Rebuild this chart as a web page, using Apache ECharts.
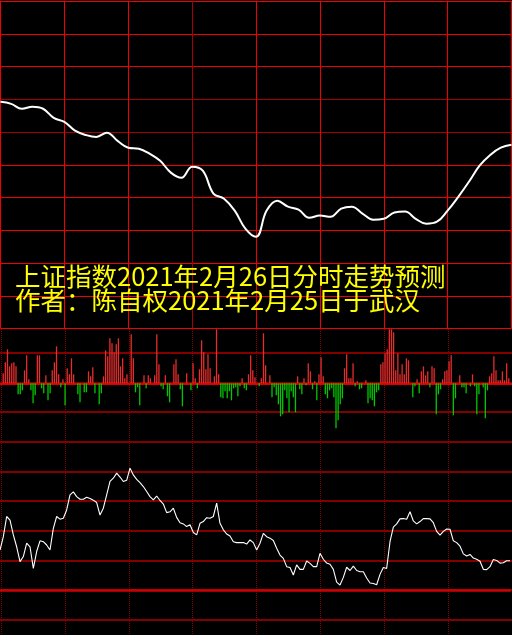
<!DOCTYPE html>
<html>
<head>
<meta charset="utf-8">
<script src="https://cdn.jsdelivr.net/npm/echarts@6.0.0/dist/echarts.min.js"></script>
<style>
  html, body { margin: 0; padding: 0; background: #000; }
  #main { width: 512px; height: 635px; }
</style>
</head>
<body>
<div id="main"></div>
<script>
  // 预测曲线 (每5分钟一个点, 单位 = 网格格数)
  var topVals = [6.92, 6.86, 6.71, 6.77, 6.71, 6.43, 6.31, 6.04, 5.91, 5.85,
    5.98, 5.73, 5.52, 5.49, 5.34, 5.12, 4.76, 4.60, 4.94, 4.82,
    4.12, 3.96, 3.60, 3.05, 2.80, 3.60, 3.90, 3.72, 3.63, 3.38,
    3.45, 3.41, 3.66, 3.72, 3.51, 3.32, 3.35, 3.54, 3.57, 3.35,
    3.20, 3.26, 3.60, 4.02, 4.48, 4.97, 5.30, 5.52, 5.61];

  // 分时红绿柱 (240分钟)
  var flowVals = [0, 10, 21, 34, 17, 20, 21, 17, -11, -11, -7, 13, 28, 4, -7, -20, -12, 28, 28, -5,
    -10, 8, -17, -10, 13, 21, 37, 9, -4, 4, -22, 15, 9, 25, 9, 0, -11, -19, 0, -9,
    -9, 12, 7, 16, -10, 0, -21, -10, 7, 33, 27, 45, 40, 31, 39, 45, 17, 25, 5, 9,
    0, 49, 25, -9, -4, -22, 0, 8, -5, 8, 5, 0, 8, 49, 19, -3, -6, 8, -13, -19,
    0, 19, 24, 9, -6, -23, 0, 10, 0, -7, 20, 5, -5, 14, 43, 31, 14, 29, 15, 0,
    7, 54, 9, -14, -15, -8, -15, -8, -17, -5, -4, -13, -3, 5, -5, -7, 9, 28, 13, 6,
    0, -3, 5, 50, 18, 0, 8, -14, -4, -12, -21, -33, -31, -7, -15, -29, -8, -14, -29, 7,
    -6, -11, 5, -2, 20, 12, -6, 2, -17, 9, 26, 7, -11, -15, -7, -5, -14, -45, -37, -21,
    -15, 15, 29, 5, 5, 20, -3, 2, -6, -5, 0, 3, -20, -15, -17, -23, -9, -7, 19, 21,
    30, 34, 55, 55, 51, 13, 30, 9, 19, 9, 25, 23, 0, -14, -3, 4, -10, 12, 17, 8,
    12, -4, 17, 15, -31, -11, -6, 4, 12, 13, 22, 28, -32, -15, 0, 8, -4, -4, -10, 0,
    -3, 9, -3, -31, -11, 0, -4, -35, -7, 7, 10, 27, 13, 3, 3, 12, 3, 20, 5, 0];

  // 2月25日分时指数
  var priceVals = [3577.7, 3582.2, 3589.0, 3587.8, 3582.8, 3578.8, 3573.8, 3575.5, 3580.0, 3578.8,
    3571.5, 3577.2, 3580.8, 3580.5, 3579.4, 3577.7, 3585.0, 3589.0, 3588.1, 3588.4,
    3591.2, 3596.3, 3597.3, 3595.7, 3594.8, 3594.8, 3595.5, 3595.1, 3594.5, 3593.7,
    3589.5, 3591.8, 3596.3, 3600.8, 3601.9, 3603.6, 3602.3, 3600.8, 3601.2, 3605.3,
    3603.0, 3601.5, 3600.4, 3599.1, 3597.4, 3595.7, 3594.6, 3595.9, 3594.4, 3593.2,
    3590.3, 3590.6, 3591.8, 3588.7, 3586.9, 3586.5, 3585.6, 3586.2, 3583.6, 3582.8,
    3586.7, 3587.3, 3588.6, 3588.4, 3589.0, 3593.5, 3586.7, 3584.5, 3583.1, 3582.4,
    3580.5, 3580.2, 3580.2, 3580.2, 3579.7, 3581.1, 3580.2,
    3577.7, 3580.0, 3583.3, 3582.2, 3581.7, 3580.9, 3578.3, 3576.0, 3574.9, 3572.1,
    3571.8, 3569.3, 3572.7, 3571.2, 3571.2, 3574.0, 3573.2, 3572.1, 3572.1, 3576.6,
    3574.6, 3573.3, 3572.9, 3571.2, 3566.9, 3565.9, 3568.5, 3571.9, 3570.8, 3572.3,
    3570.8, 3570.4, 3570.4, 3568.3, 3566.6, 3566.4, 3566.0, 3569.5, 3571.8, 3571.5,
    3580.5, 3585.4, 3586.5, 3588.2, 3588.3, 3588.1, 3590.6, 3587.5, 3586.5, 3587.3,
    3588.3, 3588.3, 3588.2, 3586.9, 3584.0, 3582.7, 3584.0, 3584.8, 3584.7, 3580.8,
    3580.2, 3579.0, 3576.4, 3575.7, 3576.2, 3575.0, 3574.6, 3573.9, 3571.2, 3571.1,
    3572.1, 3574.5, 3574.2, 3573.3, 3573.4, 3574.1, 3574.1];

  var titleLines = ['上证指数2021年2月26日分时走势预测', '作者：陈自权2021年2月25日于武汉'];

  var bright = '#f00000', dim = '#a80000';

  var chart = echarts.init(document.getElementById('main'));
  chart.setOption({
    backgroundColor: '#000',
    animation: false,
    title: [
      { text: titleLines[0], left: 15, top: 264, padding: 0,
        textStyle: { color: '#ffff00', fontSize: 25.5, fontWeight: 'normal', fontFamily: 'Noto Sans CJK SC' } },
      { text: titleLines[1], left: 15, top: 288, padding: 0,
        textStyle: { color: '#ffff00', fontSize: 25.5, fontWeight: 'normal', fontFamily: 'Noto Sans CJK SC' } }
    ],
    grid: [
      { left: 0.5, right: 0.5, top: 1, height: 327.5 },       // 预测图
      { left: 0, right: 0, top: 329.3, height: 112 },          // 红绿柱
      { left: 0, right: 2, top: 442.3, height: 148.4 },        // 分时线
      { left: 0, right: 0, top: 352.6, height: 267 },          // 横向网格
      { left: 1, right: 0, top: 329, bottom: 0 }               // 竖向虚线
    ],
    xAxis: [
      { gridIndex: 0, type: 'category', boundaryGap: false, data: topVals.map(function (v, i) { return i; }),
        axisLine: { show: false }, axisTick: { show: false }, axisLabel: { show: false },
        splitLine: { show: true, interval: 5,
          lineStyle: { width: 1, color: [bright, bright, bright, dim, bright, bright, bright, bright, bright] } } },
      { gridIndex: 1, type: 'category', data: flowVals.map(function (v, i) { return i; }),
        axisLine: { show: true, onZero: true, lineStyle: { color: '#d80000', width: 2 } },
        axisTick: { show: false }, axisLabel: { show: false }, splitLine: { show: false } },
      { gridIndex: 2, type: 'category', boundaryGap: false, data: priceVals.map(function (v, i) { return i; }),
        axisLine: { show: true, onZero: false, lineStyle: { color: '#d00000', width: 2.5 } },
        axisTick: { show: false }, axisLabel: { show: false }, splitLine: { show: false } },
      { gridIndex: 3, type: 'value', min: 0, max: 1, show: false },
      { gridIndex: 4, type: 'value', min: 0, max: 8, interval: 1,
        axisLine: { show: false }, axisTick: { show: false }, axisLabel: { show: false },
        splitLine: { show: true, lineStyle: { type: 'dotted', color: '#8a0000', width: 1 } } }
    ],
    yAxis: [
      { gridIndex: 0, type: 'value', min: 0, max: 10, interval: 1,
        axisLine: { show: false }, axisTick: { show: false }, axisLabel: { show: false },
        splitLine: { show: true,
          lineStyle: { width: 1, color: [bright, bright, bright, bright, bright, bright, dim, dim, bright, bright, bright] } } },
      { gridIndex: 1, type: 'value', min: -58, max: 54, show: false, splitLine: { show: false } },
      { gridIndex: 2, type: 'value', min: 3564, max: 3614, show: false, splitLine: { show: false } },
      { gridIndex: 3, type: 'value', min: 0, max: 9, interval: 1,
        axisLine: { show: false }, axisTick: { show: false }, axisLabel: { show: false },
        splitLine: { show: true, lineStyle: { color: '#b00000', width: 1.5 } } },
      { gridIndex: 4, type: 'value', min: 0, max: 1, show: false, splitLine: { show: false } }
    ],
    series: [
      { type: 'line', xAxisIndex: 0, yAxisIndex: 0, data: topVals, smooth: 0.4, symbol: 'none',
        lineStyle: { color: '#ffffff', width: 2 } },
      { type: 'bar', xAxisIndex: 1, yAxisIndex: 1, data: flowVals, barWidth: 1.3,
        itemStyle: { color: function (p) { return p.value >= 0 ? '#e82c2c' : '#00c800'; } } },
      { type: 'line', xAxisIndex: 2, yAxisIndex: 2, data: priceVals, symbol: 'none',
        lineStyle: { color: '#ffffff', width: 1.1 } }
    ]
  });
</script>
</body>
</html>
